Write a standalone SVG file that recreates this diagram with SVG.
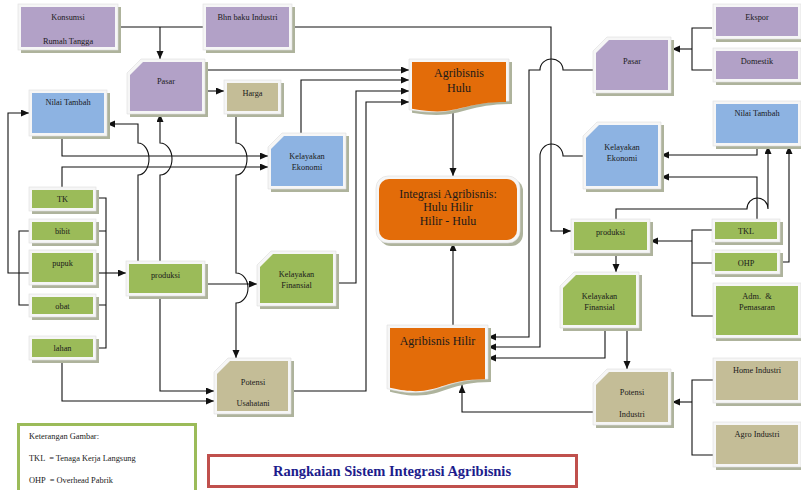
<svg xmlns="http://www.w3.org/2000/svg" width="801" height="490" viewBox="0 0 801 490">
  <style>
    .sh { fill: #aeb39c; }
    .fr { fill: #f6f6f6; stroke: #dedede; stroke-width: 0.6; }
    .pu { fill: #b2a1c7; }
    .bl { fill: #8db3e2; }
    .gr { fill: #9bbb59; }
    .tn { fill: #c4bd97; }
    .or { fill: #e36c09; }
    .t { font-family: "Liberation Serif", "Times New Roman", serif; font-size: 8.3px; fill: #1a1a1a; text-anchor: middle; }
    .tl { font-family: "Liberation Serif", "Times New Roman", serif; font-size: 12px; fill: #1a1a1a; text-anchor: middle; }
    .lg { font-family: "Liberation Serif", "Times New Roman", serif; font-size: 8.4px; fill: #1a1a1a; }
    .ln { fill: none; stroke: #111; stroke-width: 1.1; }
    .ar { marker-end: url(#arrow); }
  </style>
  <defs>
    <marker id="arrow" markerUnits="userSpaceOnUse" markerWidth="9" markerHeight="8" refX="8" refY="3.5" orient="auto">
      <path d="M0,0 L8,3.5 L0,7 Z" fill="#111"/>
    </marker>
  </defs>

  <rect width="801" height="490" fill="#ffffff"/>

  <!-- connectors -->
  <g id="connectors">
    <!-- upper-left chain -->
    <path class="ln" d="M118,27 H203"/>
    <path class="ln ar" d="M160,27 V59"/>
    <path class="ln ar" d="M292,27 H551 V231 H571"/>
    <path class="ln ar" d="M205,70 H409"/>
    <path class="ln ar" d="M205,91 H224"/>
    <path class="ln ar" d="M236,114 V143 A11 16 0 0 1 236,175 V273 A12 15 0 0 1 236,303 V358"/>
    <path class="ln ar" d="M301,133 V80 H409"/>
    <path class="ln ar" d="M336,283 H356 V91 H409"/>
    <path class="ln ar" d="M291,391 H366 V102 H409"/>
    <path class="ln ar" d="M62,136 V156 H268"/>
    <path class="ln ar" d="M62,187 V167 H268"/>
    <path class="ln ar" d="M138,261 V175 A11 16 0 0 0 138,143 V124 H107"/>
    <path class="ln ar" d="M160,261 V175 A12 16 0 0 0 160,143 V114"/>
    <path class="ln ar" d="M29,273 H8 V113 H29"/>
    <path class="ln" d="M29,231 H19 V305 H29"/>
    <path class="ln" d="M96,198 H106 V348 H96 M96,231 H106 M96,305 H106"/>
    <path class="ln ar" d="M96,273 H126"/>
    <path class="ln ar" d="M205,284 H257"/>
    <path class="ln ar" d="M160,296 V391 H214"/>
    <path class="ln ar" d="M62,360 V401 H214"/>

    <!-- centre column -->
    <path class="ln ar" d="M453,113 V176"/>
    <path class="ln ar" d="M453,325 V243"/>

    <!-- right side into Agribisnis Hilir -->
    <path class="ln ar" d="M593,70 H563 A11.5 11 0 0 0 540,70 H529 V337 H488"/>
    <path class="ln ar" d="M583,156 H563 A11.5 12 0 0 0 540,156 V347 H488"/>
    <path class="ln ar" d="M605,328 V358 H488"/>
    <path class="ln ar" d="M627,328 V369"/>
    <path class="ln ar" d="M593,412 H462 V385"/>

    <!-- right inputs -->
    <path class="ln" d="M712,28 H692 V70 H712"/>
    <path class="ln ar" d="M692,49 H672"/>
    <path class="ln ar" d="M757,146 V155 H661"/>
    <path class="ln ar" d="M757,219 V177 H661"/>
    <path class="ln ar" d="M616,219 V209 H747 A10.5 11 0 0 1 768,209 V146"/>
    <path class="ln ar" d="M780,262 H789 V146"/>
    <path class="ln" d="M712,230 H692 V316 H713 M692,263 H712"/>
    <path class="ln ar" d="M692,241 H650"/>
    <path class="ln ar" d="M616,253 V272"/>
    <path class="ln" d="M713,380 H692 V455 H713"/>
    <path class="ln ar" d="M692,402 H672"/>
  </g>

  <!-- purple nodes -->
  <g id="konsumsi">
    <rect class="sh" x="21" y="7" width="100" height="46"/>
    <rect class="fr" x="18" y="4" width="100" height="46"/>
    <rect class="pu" x="21" y="7" width="94" height="40"/>
    <text class="t" x="68" y="20">Konsumsi</text>
    <text class="t" x="68" y="44">Rumah Tangga</text>
  </g>
  <g id="bhn-baku">
    <rect class="sh" x="206" y="7" width="89" height="46"/>
    <rect class="fr" x="203" y="4" width="89" height="46"/>
    <rect class="pu" x="206" y="7" width="83" height="40"/>
    <text class="t" x="247.5" y="20">Bhn baku Industri</text>
  </g>
  <g id="pasar-hulu">
    <polygon class="sh" points="144,62 208,62 208,117 130,117 130,76"/>
    <polygon class="fr" points="141,59 205,59 205,114 127,114 127,73"/>
    <polygon class="pu" points="143,62 202,62 202,111 130,111 130,75"/>
    <text class="t" x="166" y="84">Pasar</text>
  </g>
  <g id="pasar-hilir">
    <polygon class="sh" points="610,40 674,40 674,96 596,96 596,54"/>
    <polygon class="fr" points="607,37 671,37 671,93 593,93 593,51"/>
    <polygon class="pu" points="609,40 668,40 668,90 596,90 596,53"/>
    <text class="t" x="632" y="64">Pasar</text>
  </g>
  <g id="ekspor">
    <rect class="sh" x="716" y="7" width="88" height="35"/>
    <rect class="fr" x="713" y="4" width="88" height="35"/>
    <rect class="pu" x="716" y="7" width="82" height="29"/>
    <text class="t" x="757" y="20">Ekspor</text>
  </g>
  <g id="domestik">
    <rect class="sh" x="716" y="51" width="88" height="34"/>
    <rect class="fr" x="713" y="48" width="88" height="34"/>
    <rect class="pu" x="716" y="51" width="82" height="28"/>
    <text class="t" x="757" y="64">Domestik</text>
  </g>

  <!-- blue nodes -->
  <g id="nilai-tambah-hulu">
    <rect class="sh" x="32" y="93" width="78" height="46"/>
    <rect class="fr" x="29" y="90" width="78" height="46"/>
    <rect class="bl" x="32" y="93" width="72" height="40"/>
    <text class="t" x="68" y="105">Nilai Tambah</text>
  </g>
  <g id="kelayakan-ekonomi-hulu">
    <polygon class="sh" points="285,136 349,136 349,192 271,192 271,150"/>
    <polygon class="fr" points="282,133 346,133 346,189 268,189 268,147"/>
    <polygon class="bl" points="284,136 343,136 343,186 271,186 271,149"/>
    <text class="t" x="307" y="159">Kelayakan</text>
    <text class="t" x="307" y="170">Ekonomi</text>
  </g>
  <g id="nilai-tambah-hilir">
    <rect class="sh" x="716" y="104" width="88" height="45"/>
    <rect class="fr" x="713" y="101" width="88" height="45"/>
    <rect class="bl" x="716" y="104" width="82" height="39"/>
    <text class="t" x="757" y="116">Nilai Tambah</text>
  </g>
  <g id="kelayakan-ekonomi-hilir">
    <polygon class="sh" points="600,125 664,125 664,192 586,192 586,139"/>
    <polygon class="fr" points="597,122 661,122 661,189 583,189 583,136"/>
    <polygon class="bl" points="599,125 658,125 658,186 586,186 586,138"/>
    <text class="t" x="622" y="150">Kelayakan</text>
    <text class="t" x="622" y="161">Ekonomi</text>
  </g>

  <!-- tan nodes -->
  <g id="harga">
    <rect class="sh" x="227" y="83" width="57" height="34"/>
    <rect class="fr" x="224" y="80" width="57" height="34"/>
    <rect class="tn" x="227" y="83" width="51" height="28"/>
    <text class="t" x="252.5" y="96">Harga</text>
  </g>
  <g id="potensi-usahatani">
    <polygon class="sh" points="231,361 294,361 294,417 217,417 217,375"/>
    <polygon class="fr" points="228,358 291,358 291,414 214,414 214,372"/>
    <polygon class="tn" points="230,361 288,361 288,411 217,411 217,374"/>
    <text class="t" x="253" y="385">Potensi</text>
    <text class="t" x="253" y="406">Usahatani</text>
  </g>
  <g id="potensi-industri">
    <polygon class="sh" points="610,372 674,372 674,428 596,428 596,386"/>
    <polygon class="fr" points="607,369 671,369 671,425 593,425 593,383"/>
    <polygon class="tn" points="609,372 668,372 668,422 596,422 596,385"/>
    <text class="t" x="632" y="395">Potensi</text>
    <text class="t" x="632" y="417">Industri</text>
  </g>
  <g id="home-industri">
    <rect class="sh" x="716" y="361" width="88" height="45"/>
    <rect class="fr" x="713" y="358" width="88" height="45"/>
    <rect class="tn" x="716" y="361" width="82" height="39"/>
    <text class="t" x="757" y="373">Home Industri</text>
  </g>
  <g id="agro-industri">
    <rect class="sh" x="716" y="425" width="88" height="45"/>
    <rect class="fr" x="713" y="422" width="88" height="45"/>
    <rect class="tn" x="716" y="425" width="82" height="39"/>
    <text class="t" x="757" y="437">Agro Industri</text>
  </g>

  <!-- green nodes -->
  <g id="tk">
    <rect class="sh" x="32" y="190" width="67" height="24"/>
    <rect class="fr" x="29" y="187" width="67" height="24"/>
    <rect class="gr" x="32" y="190" width="61" height="18"/>
    <text class="t" x="62.5" y="202">TK</text>
  </g>
  <g id="bibit">
    <rect class="sh" x="32" y="222" width="67" height="24"/>
    <rect class="fr" x="29" y="219" width="67" height="24"/>
    <rect class="gr" x="32" y="222" width="61" height="18"/>
    <text class="t" x="62.5" y="234">bibit</text>
  </g>
  <g id="pupuk">
    <rect class="sh" x="32" y="253" width="67" height="35"/>
    <rect class="fr" x="29" y="250" width="67" height="35"/>
    <rect class="gr" x="32" y="253" width="61" height="29"/>
    <text class="t" x="62.5" y="266">pupuk</text>
  </g>
  <g id="obat">
    <rect class="sh" x="32" y="297" width="67" height="23"/>
    <rect class="fr" x="29" y="294" width="67" height="23"/>
    <rect class="gr" x="32" y="297" width="61" height="17"/>
    <text class="t" x="62.5" y="309">obat</text>
  </g>
  <g id="lahan">
    <rect class="sh" x="32" y="339" width="67" height="24"/>
    <rect class="fr" x="29" y="336" width="67" height="24"/>
    <rect class="gr" x="32" y="339" width="61" height="18"/>
    <text class="t" x="62.5" y="351">lahan</text>
  </g>
  <g id="produksi-hulu">
    <rect class="sh" x="129" y="264" width="79" height="35"/>
    <rect class="fr" x="126" y="261" width="79" height="35"/>
    <rect class="gr" x="129" y="264" width="73" height="29"/>
    <text class="t" x="165.5" y="278">produksi</text>
  </g>
  <g id="kelayakan-finansial-hulu">
    <polygon class="sh" points="274,254 339,254 339,309 260,309 260,268"/>
    <polygon class="fr" points="271,251 336,251 336,306 257,306 257,265"/>
    <polygon class="gr" points="273,254 333,254 333,303 260,303 260,267"/>
    <text class="t" x="296.5" y="277">Kelayakan</text>
    <text class="t" x="296.5" y="288">Finansial</text>
  </g>
  <g id="produksi-hilir">
    <rect class="sh" x="574" y="222" width="79" height="34"/>
    <rect class="fr" x="571" y="219" width="79" height="34"/>
    <rect class="gr" x="574" y="222" width="73" height="28"/>
    <text class="t" x="610.5" y="235">produksi</text>
  </g>
  <g id="kelayakan-finansial-hilir">
    <polygon class="sh" points="577,275 642,275 642,331 563,331 563,289"/>
    <polygon class="fr" points="574,272 639,272 639,328 560,328 560,286"/>
    <polygon class="gr" points="576,275 636,275 636,325 563,325 563,288"/>
    <text class="t" x="599.5" y="299">Kelayakan</text>
    <text class="t" x="599.5" y="310">Finansial</text>
  </g>
  <g id="tkl">
    <rect class="sh" x="715" y="222" width="68" height="23"/>
    <rect class="fr" x="712" y="219" width="68" height="23"/>
    <rect class="gr" x="715" y="222" width="62" height="17"/>
    <text class="t" x="746" y="234">TKL</text>
  </g>
  <g id="ohp">
    <rect class="sh" x="715" y="253" width="68" height="24"/>
    <rect class="fr" x="712" y="250" width="68" height="24"/>
    <rect class="gr" x="715" y="253" width="62" height="18"/>
    <text class="t" x="746" y="266">OHP</text>
  </g>
  <g id="adm-pemasaran">
    <rect class="sh" x="716" y="286" width="88" height="55"/>
    <rect class="fr" x="713" y="283" width="88" height="55"/>
    <rect class="gr" x="716" y="286" width="82" height="49"/>
    <text class="t" x="757" y="299" xml:space="preserve">Adm.  &amp;</text>
    <text class="t" x="757" y="310">Pemasaran</text>
  </g>

  <!-- orange nodes -->
  <g id="agribisnis-hulu">
    <path class="sh" d="M412,62 H512 V104.1 C462,104.1 462,121 412,112.8 Z"/>
    <path class="fr" d="M409,59 H509 V101.1 C459,101.1 459,118 409,109.8 Z"/>
    <path class="or" d="M412,62 H506 V102.1 C459,102.1 459,117.4 412,108.7 Z"/>
    <text class="tl" x="459" y="77">Agribisnis</text>
    <text class="tl" x="459" y="92">Hulu</text>
  </g>
  <g id="integrasi">
    <rect class="sh" x="379" y="179" width="144" height="67" rx="12"/>
    <rect class="fr" x="376" y="176" width="144" height="67" rx="12"/>
    <rect class="or" x="379" y="179" width="138" height="61" rx="10"/>
    <text class="tl" x="448" y="198">Integrasi Agribisnis:</text>
    <text class="tl" x="448" y="211">Hulu Hilir</text>
    <text class="tl" x="448" y="225">Hilir - Hulu</text>
  </g>
  <g id="agribisnis-hilir">
    <path class="sh" d="M390,328 H491 V382.1 C440.5,382.1 440.5,404.4 390,391.7 Z"/>
    <path class="fr" d="M387,325 H488 V379.1 C437.5,379.1 437.5,401.4 387,388.7 Z"/>
    <path class="or" d="M390,328 H485 V379.3 C437.5,379.3 437.5,398.9 390,387.8 Z"/>
    <text class="tl" x="437.5" y="345">Agribisnis Hilir</text>
  </g>

  <!-- legend -->
  <g id="legend">
    <rect x="18.5" y="424.5" width="177" height="80" fill="#ffffff" stroke="#9bbb59" stroke-width="3"/>
    <text class="lg" x="29" y="439">Keterangan Gambar:</text>
    <text class="lg" x="29" y="461" xml:space="preserve">TKL  = Tenaga Kerja Langsung</text>
    <text class="lg" x="29" y="483" xml:space="preserve">OHP  = Overhead Pabrik</text>
  </g>

  <!-- title -->
  <g id="title">
    <rect x="208.5" y="455.5" width="368" height="31" fill="#ffffff" stroke="#c0504d" stroke-width="3"/>
    <text x="392" y="476" font-family="Liberation Serif, Times New Roman, serif" font-size="14.5" font-weight="bold" fill="#1c1c8c" text-anchor="middle">Rangkaian Sistem Integrasi Agribisnis</text>
  </g>
</svg>
